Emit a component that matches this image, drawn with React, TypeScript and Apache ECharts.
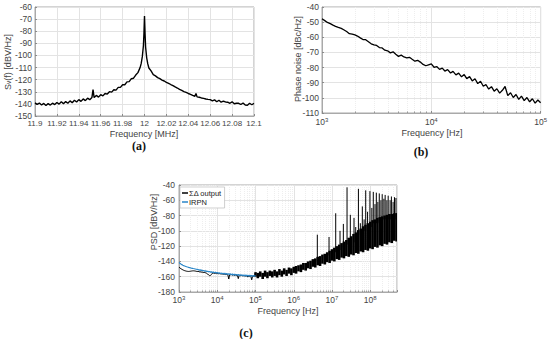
import { useEffect, useRef } from 'react';
import * as echarts from 'echarts';

// ---------- (a) spectrum around 12 MHz ----------
const freqA = [
  11.900, 11.902, 11.904, 11.906, 11.908, 11.910, 11.912, 11.914, 11.916, 11.918,
  11.920, 11.922, 11.924, 11.926, 11.928, 11.930, 11.932, 11.934, 11.936, 11.938,
  11.940, 11.942, 11.944, 11.946, 11.948, 11.950, 11.952, 11.953, 11.954, 11.956,
  11.958, 11.960, 11.962, 11.964, 11.966, 11.968, 11.970, 11.972, 11.974, 11.976,
  11.978, 11.980, 11.982, 11.984, 11.986, 11.988, 11.990, 11.992, 11.994, 11.996,
  11.997, 11.998, 11.999, 11.9995, 12.000, 12.0005, 12.001, 12.002, 12.003, 12.004,
  12.006, 12.008, 12.010, 12.012, 12.014, 12.016, 12.018, 12.020, 12.022, 12.024,
  12.026, 12.028, 12.030, 12.032, 12.034, 12.036, 12.038, 12.040, 12.042, 12.044,
  12.046, 12.047, 12.048, 12.050, 12.052, 12.054, 12.056, 12.058, 12.060, 12.062,
  12.064, 12.066, 12.068, 12.070, 12.072, 12.074, 12.076, 12.078, 12.080, 12.082,
  12.084, 12.086, 12.088, 12.090, 12.092, 12.094, 12.096, 12.098, 12.100,
];
const psdA = [
  -139.2, -140.4, -139.3, -140.9, -139.6, -141.3, -139.8, -141.0, -139.4, -140.6,
  -138.8, -140.2, -138.3, -139.8, -138.1, -139.5, -137.5, -139.0, -137.0, -138.5,
  -136.5, -137.9, -135.9, -137.3, -135.3, -136.5, -134.7, -128.3, -134.8, -133.0,
  -134.4, -132.4, -133.4, -131.4, -131.9, -129.9, -130.3, -128.3, -128.6, -126.4,
  -126.4, -124.2, -124.2, -121.8, -121.6, -119.2, -118.8, -116.2, -114.2, -110.0,
  -106.6, -101.0, -92.0, -82.0, -67.5, -82.0, -93.0, -102.0, -107.0, -110.4,
  -112.8, -115.9, -116.9, -118.3, -119.2, -120.3, -121.1, -122.2, -123.0, -124.0,
  -124.9, -126.0, -126.9, -128.0, -128.8, -129.8, -130.5, -131.4, -132.1, -133.0,
  -133.7, -131.4, -134.2, -134.5, -135.1, -135.5, -136.0, -136.3, -136.5, -137.5,
  -136.7, -138.2, -137.0, -138.6, -137.8, -138.4, -138.6, -139.5, -138.3, -139.9,
  -139.5, -139.5, -140.5, -139.3, -140.9, -141.1, -139.5, -140.7, -139.6,
];

// ---------- (b) phase noise ----------
const freqB = [
  1000, 1060, 1120, 1190, 1260, 1330, 1410, 1500, 1580, 1680,
  1780, 1890, 2000, 2110, 2240, 2370, 2510, 2660, 2820, 2990,
  3160, 3350, 3550, 3760, 3980, 4220, 4470, 4730, 5010, 5310,
  5620, 5960, 6310, 6680, 7080, 7500, 7940, 8410, 8910, 9440,
  10000, 10600, 11200, 11900, 12600, 13300, 14100, 15000, 15800, 16800,
  17800, 18900, 20000, 21100, 22400, 23700, 25100, 26600, 28200, 29900,
  31600, 33500, 35500, 37600, 39800, 42200, 44700, 47300, 50100, 53100,
  56200, 59600, 63100, 66800, 70800, 75000, 79400, 84100, 89100, 94400, 100000,
];
const phaseNoiseB = [
  -47.8, -49.0, -50.2, -51.0, -52.0, -52.8, -53.5, -54.1, -55.0, -56.2,
  -57.6, -57.9, -58.4, -59.2, -60.4, -61.5, -61.6, -62.9, -64.3, -65.0,
  -65.4, -66.8, -67.0, -68.5, -68.9, -70.3, -69.6, -71.2, -72.6, -71.8,
  -73.0, -73.6, -73.2, -74.5, -75.8, -75.2, -76.4, -77.9, -78.8, -78.2,
  -77.6, -79.8, -79.3, -81.2, -80.4, -82.3, -81.4, -83.6, -82.5, -84.8,
  -83.7, -86.1, -84.6, -87.3, -86.0, -88.8, -87.4, -90.6, -89.0, -92.3,
  -91.2, -94.2, -92.6, -95.6, -94.0, -96.9, -95.0, -92.5, -98.5, -96.6,
  -99.8, -97.8, -101.0, -98.9, -101.8, -99.8, -102.6, -100.6, -103.5, -101.4, -103.2,
];

// ---------- (c) PSD of the modulator output ----------
const freqC = freqB;
const sdOutC = [
  -147.5, -148.5, -149.5, -150.3, -151.0, -151.6, -152.1, -152.5, -152.8, -153.0,
  -153.1, -153.0, -152.8, -152.6, -152.4, -152.3, -152.4, -152.6, -152.9, -153.2,
  -153.0, -153.5, -153.8, -153.6, -154.2, -154.0, -154.6, -154.4, -155.0, -155.6,
  -156.5, -157.8, -158.6, -158.2, -157.0, -155.5, -155.2, -155.8, -155.4, -156.0,
  -155.6, -156.2, -155.7, -156.4, -156.0, -156.8, -156.2, -157.0, -156.5, -157.3,
  -156.7, -157.5, -163.0, -157.0, -157.6, -157.2, -158.0, -157.4, -158.3, -157.6,
  -158.5, -157.8, -162.5, -158.0, -158.8, -158.1, -159.0, -158.3, -159.2, -158.5,
  -159.4, -158.6, -160.5, -158.8, -159.6, -158.9, -164.0, -159.0, -159.5, -158.7, -158.0,
];
const irpnC = [
  -141.5, -142.5, -143.4, -144.2, -144.9, -145.5, -146.0, -146.5, -146.9, -147.3,
  -147.7, -148.0, -148.4, -148.7, -149.0, -149.3, -149.6, -149.9, -150.2, -150.5,
  -150.8, -151.3, -151.0, -151.7, -151.4, -152.2, -151.9, -152.7, -152.3, -153.1,
  -152.8, -153.6, -153.2, -154.0, -153.6, -154.5, -153.9, -154.8, -154.2, -155.2,
  -154.5, -155.6, -154.7, -156.0, -155.0, -156.2, -155.3, -156.5, -155.5, -156.8,
  -155.8, -157.0, -156.0, -157.3, -156.2, -157.5, -156.5, -157.8, -156.7, -158.0,
  -156.9, -158.2, -157.1, -158.4, -157.3, -158.6, -157.5, -158.8, -157.6, -159.0,
  -157.8, -159.1, -158.0, -159.3, -158.1, -159.4, -158.3, -159.5, -158.4, -159.6, -158.5,
];
const bandFreqC = [
  1.00e5, 1.15e5, 1.33e5, 1.54e5, 1.78e5, 2.05e5, 2.37e5, 2.74e5, 3.16e5, 3.65e5, 4.22e5, 4.87e5, 5.62e5, 6.49e5, 7.50e5, 8.66e5,
  1.00e6, 1.15e6, 1.33e6, 1.54e6, 1.78e6, 2.05e6, 2.37e6, 2.74e6, 3.16e6, 3.65e6, 4.22e6, 4.87e6, 5.62e6, 6.49e6, 7.50e6, 8.66e6,
  1.00e7, 1.15e7, 1.33e7, 1.54e7, 1.78e7, 2.05e7, 2.37e7, 2.74e7, 3.16e7, 3.65e7, 4.22e7, 4.87e7, 5.62e7, 6.49e7, 7.50e7, 8.66e7,
  1.00e8, 1.15e8, 1.33e8, 1.54e8, 1.78e8, 2.05e8, 2.37e8, 2.74e8, 3.16e8, 3.65e8, 4.22e8, 4.87e8, 5.00e8,
];
const bandLowC = [
  -160, -162, -160, -163, -160, -162, -159, -161, -159, -161, -158, -160, -157, -159, -156, -158,
  -155, -156, -153, -154, -151, -152, -149, -150, -147, -148, -145, -146, -143, -144, -141, -142,
  -139, -140, -137, -138, -135, -136, -133, -134, -131, -132, -129, -130, -127, -128, -125, -126,
  -123, -124, -121, -122, -119, -120, -117, -118, -115, -116, -113, -114, -112,
];
const bandHighC = [
  -154, -155, -153, -155, -152, -154, -152, -153, -151, -153, -150, -152, -149, -151, -148, -149,
  -147, -146, -145, -144, -142, -142, -140, -139, -137, -136, -134, -133, -131, -130, -128, -126,
  -124, -122, -120, -118, -116, -114, -112, -109, -107, -104, -102, -99, -97, -94, -92, -90,
  -88, -86, -85, -83, -82, -81, -80, -79, -78, -78, -77, -77, -77,
];
const spikeFreqC = [
  4.13e6, 8.36e6, 1.25e7, 1.62e7, 1.98e7, 2.47e7, 3.01e7, 3.76e7, 4.17e7, 4.90e7,
  5.50e7, 6.20e7, 6.90e7, 7.60e7, 8.50e7, 9.80e7, 1.10e8, 1.20e8, 1.33e8, 1.44e8,
  1.58e8, 1.72e8, 1.90e8, 2.05e8, 2.27e8, 2.45e8, 2.72e8, 2.94e8, 3.30e8, 3.57e8,
  3.95e8, 4.30e8, 4.70e8,
];
const spikeBaseC = [
  -140, -132, -128, -125, -122, -118, -118, -115, -112, -110,
  -105, -105, -100, -100, -95, -95, -95, -90, -90, -90,
  -90, -88, -88, -85, -85, -85, -85, -85, -85, -85,
  -85, -85, -85,
];
const spikeTopC = [
  -105, -108, -77, -100, -91, -43, -79, -83, -95, -45,
  -90, -68, -85, -47, -75, -48, -70, -49, -65, -50,
  -62, -51, -60, -52, -58, -53, -60, -54, -60, -55,
  -62, -56, -57,
];

const FONT = '"Liberation Sans", Arial, Helvetica, sans-serif';
const SERIF = '"Liberation Serif", "DejaVu Serif", serif';
const AXIS = '#a9a9a9';
const GRID = '#e3e3e3';
const MINOR = '#eeeeee';
const TXT = '#444444';
const TICK_FS = 8.5;

function supLabel(v: number): string {
  const e = Math.log10(v);
  const r = Math.round(e);
  if (Math.abs(e - r) > 1e-6) return '';
  return `{b|10}{s|${r}}`;
}

const supRich = {
  b: { fontSize: TICK_FS, fontFamily: FONT, color: TXT, lineHeight: 10 },
  s: { fontSize: 6, fontFamily: FONT, color: TXT, lineHeight: 6, verticalAlign: 'top' },
};

function segRenderer(width: number) {
  return (_params: any, api: any) => {
    const f = api.value(0);
    const p1 = api.coord([f, api.value(1)]);
    const p2 = api.coord([f, api.value(2)]);
    return {
      type: 'line',
      shape: { x1: p1[0], y1: p1[1], x2: p2[0], y2: p2[1] },
      style: { stroke: '#000', lineWidth: width },
    };
  };
}

function axisBase(gridIndex: number) {
  return {
    gridIndex,
    axisLine: { show: true, onZero: false, lineStyle: { color: AXIS, width: 1 } },
    axisTick: { show: true, inside: true, length: 2, lineStyle: { color: '#8a8a8a' } },
    splitLine: { show: true, lineStyle: { color: GRID, width: 1 } },
  };
}

const labelStyle = { fontSize: TICK_FS, color: TXT, fontFamily: FONT };

function title(x: number, y: number, text: string, rotate = false) {
  return {
    type: 'text', x, y, rotation: rotate ? Math.PI / 2 : 0,
    style: { text, fontSize: 9, fontFamily: FONT, fill: TXT, align: 'center', verticalAlign: 'middle' },
  };
}

function caption(x: number, y: number, text: string) {
  return {
    type: 'text', x, y,
    style: { text, fontSize: 12, fontWeight: 'bold', fontFamily: SERIF, fill: '#111', align: 'center', verticalAlign: 'middle' },
  };
}

export default function App() {
  const ref = useRef<HTMLDivElement>(null);
  useEffect(() => {
    if (!ref.current) return;
    const chart = echarts.init(ref.current, null, { renderer: 'svg' });
    const gridStyle = { show: true, borderColor: AXIS, borderWidth: 1, backgroundColor: '#fff' };
    const option: any = {
      animation: false,
      backgroundColor: '#fff',
      textStyle: { fontFamily: FONT },
      grid: [
        { left: 35, top: 7, width: 219, height: 109, ...gridStyle },
        { left: 322, top: 7, width: 219, height: 106, ...gridStyle },
        { left: 179, top: 185, width: 218, height: 107, ...gridStyle },
      ],
      xAxis: [
        {
          ...axisBase(0), type: 'value', min: 11.9, max: 12.1, interval: 0.02,
          axisLabel: { ...labelStyle, fontSize: 8, margin: 3, formatter: (v: number) => String(parseFloat(v.toFixed(3))) },
        },
        {
          ...axisBase(1), type: 'log', logBase: 10, min: 1e3, max: 1e5,
          axisLabel: { margin: 4, formatter: supLabel, rich: supRich },
          minorTick: { show: true, splitNumber: 9, length: 1.5, lineStyle: { color: '#999' } },
          minorSplitLine: { show: true, lineStyle: { color: MINOR, width: 1, type: 'dotted' } },
        },
        {
          ...axisBase(2), type: 'log', logBase: 10, min: 1e3, max: 5e8,
          axisLabel: { margin: 3, formatter: supLabel, rich: supRich },
          minorTick: { show: true, splitNumber: 9, length: 1.5, lineStyle: { color: '#999' } },
          minorSplitLine: { show: true, lineStyle: { color: MINOR, width: 1, type: 'dotted' } },
        },
      ],
      yAxis: [
        { ...axisBase(0), type: 'value', min: -150, max: -60, interval: 10, axisLabel: { ...labelStyle, margin: 3 } },
        { ...axisBase(1), type: 'value', min: -110, max: -40, interval: 10, axisLabel: { ...labelStyle, margin: 3 } },
        { ...axisBase(2), type: 'value', min: -180, max: -40, interval: 20, axisLabel: { ...labelStyle, margin: 4 } },
      ],
      legend: {
        data: ['ΣΔ output', 'IRPN'],
        orient: 'vertical',
        left: 180,
        top: 187,
        padding: [2, 3, 2, 2],
        itemGap: 1,
        itemWidth: 6,
        itemHeight: 1.5,
        icon: 'rect',
        backgroundColor: '#fff',
        borderColor: '#bcbcbc',
        borderWidth: 0.7,
        borderRadius: 0,
        textStyle: { fontSize: 7.5, color: '#222', fontFamily: FONT, padding: [0, 0, 0, -4] },
      },
      graphic: [
        title(144, 134, 'Frequency [MHz]'),
        title(432, 133, 'Frequency [Hz]'),
        title(288, 311, 'Frequency [Hz]'),
        {
          type: 'text', x: 8, y: 62, rotation: Math.PI / 2,
          style: {
            text: '{a|S}{b|v}{a|(f) [dBV/Hz]}', align: 'center', verticalAlign: 'middle',
            rich: {
              a: { fontSize: 9, fontFamily: FONT, fill: TXT, lineHeight: 11 },
              b: { fontSize: 6.5, fontFamily: FONT, fill: TXT, lineHeight: 6 },
            },
          },
        },
        title(298, 59, 'Phase noise [dBc/Hz]', true),
        title(154, 222, 'PSD [dBV/Hz]', true),
        caption(139, 146, '(a)'),
        caption(421, 152, '(b)'),
        caption(246, 333, '(c)'),
      ],
      series: [
        {
          type: 'line', xAxisIndex: 0, yAxisIndex: 0, symbol: 'none', silent: true,
          lineStyle: { color: '#000', width: 1.4 },
          data: freqA.map((f, i) => [f, psdA[i]]),
        },
        {
          type: 'line', xAxisIndex: 1, yAxisIndex: 1, symbol: 'none', silent: true,
          lineStyle: { color: '#000', width: 1.3 },
          data: freqB.map((f, i) => [f, phaseNoiseB[i]]),
        },
        {
          name: 'ΣΔ output', type: 'line', xAxisIndex: 2, yAxisIndex: 2, symbol: 'none', silent: true,
          color: '#000', lineStyle: { color: '#000', width: 1 },
          data: freqC.map((f, i) => [f, sdOutC[i]]),
        },
        {
          name: 'ΣΔ band', type: 'custom', xAxisIndex: 2, yAxisIndex: 2, silent: true, clip: true,
          renderItem: segRenderer(2.6),
          encode: { x: 0, y: [1, 2] },
          data: bandFreqC.map((f, i) => [f, bandLowC[i], bandHighC[i]]),
        },
        {
          name: 'ΣΔ tones', type: 'custom', xAxisIndex: 2, yAxisIndex: 2, silent: true, clip: true,
          renderItem: segRenderer(1),
          encode: { x: 0, y: [1, 2] },
          data: spikeFreqC.map((f, i) => [f, spikeBaseC[i], spikeTopC[i]]),
        },
        {
          name: 'IRPN', type: 'line', xAxisIndex: 2, yAxisIndex: 2, symbol: 'none', silent: true,
          color: '#2a86c8', lineStyle: { color: '#2a86c8', width: 1.2 },
          data: freqC.map((f, i) => [f, irpnC[i]]),
        },
      ],
    };
    chart.setOption(option);
    return () => chart.dispose();
  }, []);
  return (
    <div
      ref={ref}
      style={{ position: 'fixed', left: 0, top: 0, width: 550, height: 339, background: '#fff' }}
    />
  );
}
